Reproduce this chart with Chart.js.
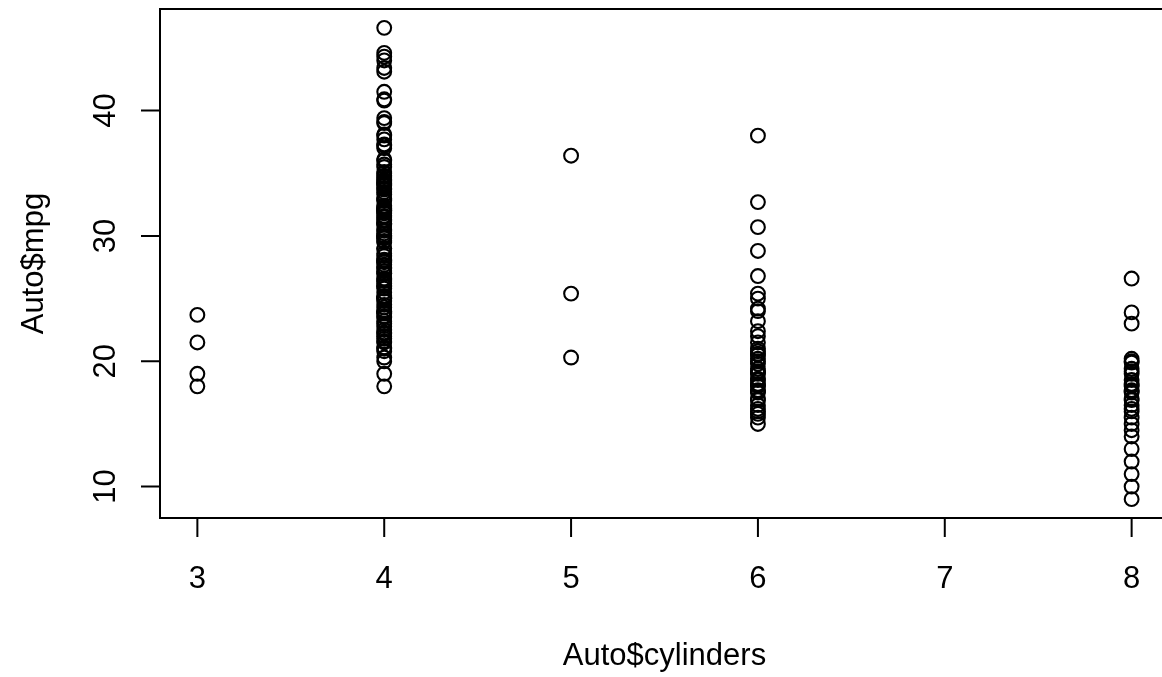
<!DOCTYPE html>
<html>
<head>
<meta charset="utf-8">
<script src="https://cdn.jsdelivr.net/npm/chart.js@4"></script>
<style>
    html, body { margin: 0; padding: 0; background: #fff; overflow: hidden; }
    #chart-area { display: block; }
</style>
</head>
<body>
<canvas id="chart-area" width="1200" height="677" style="width:1200px;height:677px"></canvas>
<script>
//Auto$mpg grouped by Auto$cylinders
var cylinders = [3, 4, 5, 6, 8];

var mpg3 = [18.0, 19.0, 21.5, 23.7];

var mpg4 = [46.6, 44.6, 44.3, 44.0, 43.4, 43.1, 41.5, 40.9, 40.8, 39.4,
    39.1, 39.0, 38.1, 38.0, 37.7, 37.3, 37.2, 37.0, 36.1, 36.0,
    35.7, 35.1, 35.0, 34.7, 34.5, 34.4, 34.3, 34.2, 34.1, 34.0,
    33.8, 33.7, 33.5, 33.0, 32.9, 32.8, 32.4, 32.3, 32.2, 32.1,
    32.0, 31.9, 31.8, 31.6, 31.5, 31.3, 31.0, 30.9, 30.5, 30.4,
    30.0, 29.9, 29.8, 29.5, 29.0, 28.4, 28.1, 28.0, 27.9, 27.5,
    27.4, 27.2, 27.0, 26.6, 26.5, 26.4, 26.0, 25.8, 25.5, 25.1,
    25.0, 24.5, 24.3, 24.0, 23.9, 23.8, 23.6, 23.5, 23.0, 22.5,
    22.3, 22.0, 21.6, 21.5, 21.1, 21.0, 20.8, 20.3, 20.0, 19.0,
    18.0, 35.5, 34.8, 33.3, 31.2, 30.2, 29.6, 28.6, 27.7, 26.2,
    25.2, 24.8, 23.2, 22.8, 22.2, 21.8, 26.0, 25.0, 24.0, 27.0,
    28.0, 29.0, 31.0, 32.0, 30.0];

var mpg5 = [20.3, 25.4, 36.4];

var mpg6 = [38.0, 32.7, 30.7, 28.8, 26.8, 25.4, 25.0, 24.2, 24.0, 23.2,
    22.4, 22.0, 21.5, 21.0, 20.8, 20.6, 20.5, 20.2, 20.0, 19.8,
    19.4, 19.2, 19.1, 19.0, 18.6, 18.5, 18.2, 18.1, 18.0, 17.7,
    17.6, 17.5, 17.0, 16.9, 16.5, 16.2, 16.0, 15.8, 15.5, 15.0];

var mpg8 = [26.6, 23.9, 23.0, 20.2, 20.0, 19.9, 19.4, 19.2, 19.0, 18.5,
    18.2, 18.1, 18.0, 17.7, 17.6, 17.5, 17.0, 16.9, 16.5, 16.2,
    16.0, 15.5, 15.0, 14.5, 14.0, 13.0, 12.0, 11.0, 10.0, 9.0];

var xTicks = [3, 4, 5, 6, 7, 8];
var yTicks = [10, 20, 30, 40];
var xTitle = 'Auto$cylinders';
var yTitle = 'Auto$mpg';

var chart;
var fontFamily = '"Liberation Sans", Arial, Helvetica, sans-serif';

function buildPoints() {
    var groups = [mpg3, mpg4, mpg5, mpg6, mpg8];
    var pts = [];
    for (var g = 0; g < groups.length; g++) {
        for (var i = 0; i < groups[g].length; i++) {
            pts.push({ x: cylinders[g], y: groups[g][i] });
        }
    }
    return pts;
}

//R base graphics look: box, outward ticks, rotated y labels
var rAxesPlugin = {
    id: 'rAxes',
    afterDraw: function (c) {
        var ctx = c.ctx;
        var area = c.chartArea;
        var xs = c.scales.x;
        var ys = c.scales.y;
        var tickLen = 19;

        ctx.save();
        ctx.strokeStyle = '#000';
        ctx.fillStyle = '#000';
        ctx.lineWidth = 2;
        ctx.strokeRect(area.left, area.top, area.right - area.left, area.bottom - area.top);

        ctx.font = '31px ' + fontFamily;
        ctx.textAlign = 'center';
        ctx.textBaseline = 'alphabetic';

        //x axis
        ctx.beginPath();
        ctx.moveTo(xs.getPixelForValue(xTicks[0]), area.bottom);
        ctx.lineTo(xs.getPixelForValue(xTicks[xTicks.length - 1]), area.bottom);
        for (var i = 0; i < xTicks.length; i++) {
            var px = xs.getPixelForValue(xTicks[i]);
            ctx.moveTo(px, area.bottom);
            ctx.lineTo(px, area.bottom + tickLen);
        }
        ctx.stroke();
        for (var i = 0; i < xTicks.length; i++) {
            ctx.fillText(String(xTicks[i]), xs.getPixelForValue(xTicks[i]), 588);
        }

        //y axis
        ctx.beginPath();
        ctx.moveTo(area.left, ys.getPixelForValue(yTicks[0]));
        ctx.lineTo(area.left, ys.getPixelForValue(yTicks[yTicks.length - 1]));
        for (var j = 0; j < yTicks.length; j++) {
            var py = ys.getPixelForValue(yTicks[j]);
            ctx.moveTo(area.left, py);
            ctx.lineTo(area.left - tickLen, py);
        }
        ctx.stroke();
        for (var j = 0; j < yTicks.length; j++) {
            ctx.save();
            ctx.translate(115, ys.getPixelForValue(yTicks[j]));
            ctx.rotate(-Math.PI / 2);
            ctx.fillText(String(yTicks[j]), 0, 0);
            ctx.restore();
        }

        //titles
        ctx.fillText(xTitle, (area.left + area.right) / 2, 665);
        ctx.save();
        ctx.translate(43, (area.top + area.bottom) / 2);
        ctx.rotate(-Math.PI / 2);
        ctx.fillText(yTitle, 0, 0);
        ctx.restore();

        ctx.restore();
    }
};

function buildChart(chartArea) {
    if (chart) {
        chart.destroy();
    }
    chart = new Chart(chartArea.getContext('2d'), {
        type: 'scatter',
        plugins: [rAxesPlugin],
        data: {
            datasets: [{
                data: buildPoints(),
                pointStyle: 'circle',
                pointRadius: 6.9,
                pointHoverRadius: 6.9,
                borderWidth: 2.1,
                borderColor: '#000',
                backgroundColor: 'rgba(0,0,0,0)'
            }]
        },
        options: {
            responsive: false,
            animation: false,
            events: [],
            //padding puts the plot region where R put it (right edge falls off the page)
            layout: {
                padding: { left: 160, top: 7, right: 31, bottom: 159 }
            },
            plugins: {
                legend: { display: false },
                tooltip: { enabled: false }
            },
            scales: {
                x: { type: 'linear', min: 2.8, max: 8.2, display: false },
                y: { type: 'linear', min: 7.496, max: 48.104, display: false }
            }
        }
    });
}

buildChart(document.getElementById('chart-area'));
</script>
</body>
</html>
